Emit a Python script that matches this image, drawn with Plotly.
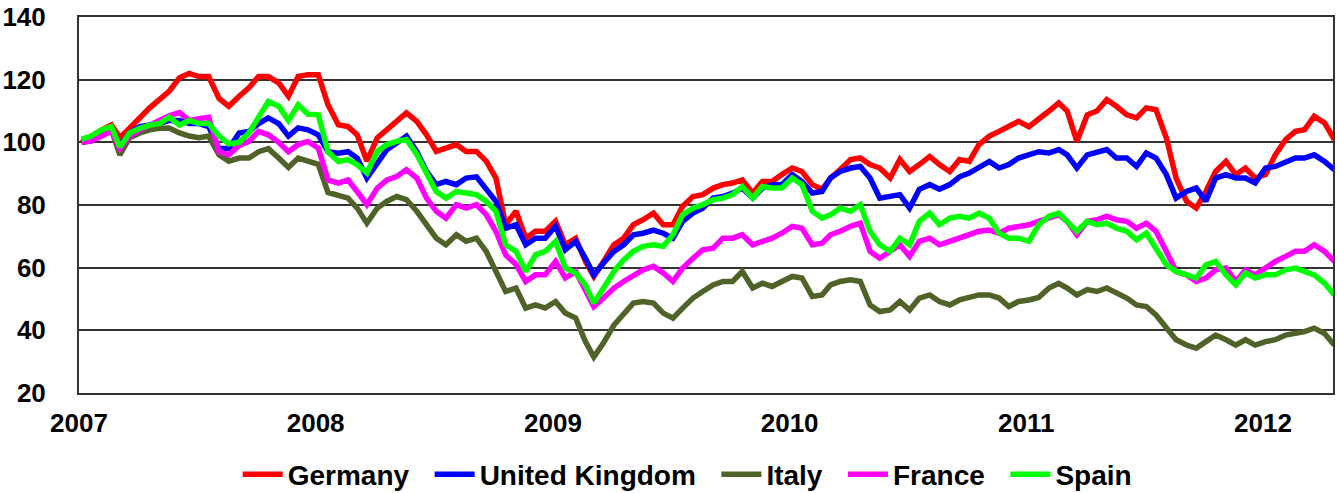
import plotly.graph_objects as go

# Semi-monthly observation dates (5th and 20th of each month), Jan 2007 - Apr 2012
dates = [f"{y}-{m:02d}-{d:02d}" for y in range(2007, 2013) for m in range(1, 13) for d in (5, 20)][:128]

germany = [100, 102, 104, 105.5, 101.5, 104.5, 108, 111, 113.6, 116.3, 120.6, 122, 121, 121, 114, 111.5,
           114.7, 117.4, 121, 121, 119, 114.7, 121, 121.6, 121.6, 112, 105.6, 105, 102.4, 94, 101.4, 104,
           106.7, 109.4, 106.7, 102.4, 97.1, 98.2, 99.3, 97.1, 97.1, 94, 88.6, 73.7, 78, 69.4, 71.6, 71.6,
           74.8, 67.3, 69.4, 62, 57.2, 62, 67.3, 69.4, 73.7, 75.3, 77.4, 73.7, 73.7, 79.6, 82.7, 83.3,
           85.4, 86.5, 87, 88, 83.8, 87.5, 87.5, 89.7, 91.8, 90.7, 86.5, 85, 88.6, 91.3, 94.5, 95,
           92.9, 91.8, 88.6, 94.5, 90.7, 92.9, 95.5, 92.9, 90.7, 94.5, 93.9, 99.3, 102, 103.5, 105, 106.7,
           105, 107.2, 110, 112.6, 110, 100.3, 108.8, 110, 113.6, 111.5, 108.8, 107.8, 111, 110.4, 101.4, 88.6,
           81.2, 79, 84.3, 90.7, 93.9, 89.7, 91.8, 88.6, 89.7, 96, 100.9, 103.5, 104, 108.3, 106.2, 100.9]

united_kingdom = [100, 100.5, 102.5, 104, 99, 103, 105, 105.5, 106, 107, 107, 106, 106, 105, 98, 98,
                  103, 103.5, 106, 107.8, 106, 102, 104.6, 104, 102.4, 97, 96.5, 97, 95, 88.6, 93.4, 97.7,
                  99.8, 102, 97, 90.7, 86.5, 87.5, 86.5, 88.6, 89, 85.4, 81.2, 72.6, 73.7, 67.3, 69.4, 69.4,
                  73.2, 65.7, 68.4, 63, 57.7, 61.5, 65.2, 67.3, 70.5, 71, 72, 71, 69.4, 74.8, 77.4, 79,
                  82.2, 82.7, 83.8, 85.4, 82.2, 85.4, 86.5, 86.5, 89.7, 87.5, 83.8, 84.3, 88.6, 90.7, 91.8, 92.3,
                  88.6, 82.2, 82.7, 83.3, 79, 85, 86.5, 85, 86.5, 89, 90.2, 91.8, 93.9, 91.8, 92.9, 95,
                  96, 97, 96.6, 97.7, 96, 91.8, 96, 97, 97.7, 95, 95, 92.3, 96.6, 95, 89.7, 82.2,
                  84.3, 85.4, 81.2, 88.6, 89.7, 88.6, 88.6, 87, 91.8, 92.3, 93.9, 95, 95, 96, 93.9, 91.3]

italy = [100, 101, 103, 104, 96, 101.5, 103, 104, 104.5, 104.6, 103, 102, 101.5, 102, 96, 94,
         95, 95, 97, 98, 95, 92, 95, 94, 93, 84, 83.3, 82.2, 79, 74.2, 79, 81.2,
         82.7, 81.7, 78, 73.7, 69.4, 67.3, 70.5, 68.4, 69.4, 65.2, 58.8, 52.4, 53.5, 47.1, 48.1, 47.1,
         49.2, 45.5, 43.9, 36.4, 31.5, 36, 41.7, 44.9, 48.7, 49.2, 48.7, 45.5, 43.9, 47.1, 50.3, 52.4,
         54.5, 55.6, 55.6, 58.8, 53.5, 55, 54, 55.6, 57.2, 56.7, 50.8, 51.3, 54.5, 55.6, 56.1, 55.6,
         48.1, 46, 46.5, 49.2, 46.5, 50.3, 51.3, 49.2, 48.1, 49.7, 50.3, 51.3, 51.3, 50.3, 47.6, 49.2,
         49.7, 50.5, 53.5, 55, 53.5, 51.3, 53, 52.4, 53.5, 51.9, 50.3, 48.1, 47.6, 44.9, 40.7, 37,
         35.3, 34.3, 36.4, 38.5, 37, 35.3, 37, 35.3, 36.4, 37, 38.5, 39, 39.6, 40.7, 39, 35.3]

france = [100, 100.5, 102, 103.5, 98, 102, 104, 105.5, 107, 108.5, 109.5, 107, 107.5, 108, 97, 96,
          99, 100.3, 103.5, 102.4, 100, 97, 99.3, 100.3, 98.2, 88, 87, 88, 84.3, 80.1, 85.4, 88,
          89.1, 91.3, 88.6, 82.2, 78, 75.8, 80.1, 79, 80.1, 76.9, 71.6, 64.1, 61, 55.6, 57.7, 57.7,
          62, 56.7, 58.8, 52.4, 47.6, 50.3, 53.5, 55.6, 57.7, 59.3, 60.4, 58.3, 55.6, 59.9, 63, 65.7,
          66.2, 69.4, 69.4, 70.5, 67.3, 68.4, 69.4, 71, 73.2, 72.6, 67.3, 67.8, 70.5, 71.6, 73.2, 74.2,
          65.2, 63, 65.2, 67.3, 63.6, 68.4, 69.4, 67.3, 68.4, 69.4, 70.5, 71.6, 72, 71, 72.6, 73.2,
          73.7, 74.8, 75.8, 76.9, 74.8, 70.5, 74.8, 75.3, 76.4, 75.3, 74.8, 72.6, 74.2, 71.6, 65.2, 58.8,
          57.7, 55.6, 56.7, 59.3, 59.9, 55.6, 59.3, 57.7, 59.9, 62, 63.6, 65.2, 65.2, 67.3, 65.2, 62]

spain = [101, 102, 104, 105, 98.5, 103, 104.5, 105.5, 106, 108, 105.5, 107, 106, 106, 102, 99.5,
         100, 103, 108, 113, 111.5, 107, 112, 109, 108.8, 97, 93.9, 94.5, 92.9, 90.2, 97.1, 99.3,
         100.3, 100.9, 96.1, 89.7, 84.3, 82.2, 84.3, 83.8, 83.3, 81.2, 78, 67.3, 65.2, 58.8, 64.1, 65.2,
         68.4, 59.9, 58.3, 54.5, 48.7, 53.5, 58.8, 62.5, 65.2, 66.8, 67.3, 66.8, 70.5, 76.9, 79, 80.1,
         81.7, 82.2, 83.3, 85.9, 82.2, 85.9, 85.4, 85.4, 88.6, 86.5, 78, 75.8, 76.9, 79, 78, 80.1,
         71.6, 67.3, 65.2, 69.4, 67.3, 74.8, 77.4, 73.7, 75.8, 76.4, 75.8, 77.4, 75.8, 71, 69.4, 69.4,
         68.4, 73.7, 76.4, 77.4, 74.8, 71.6, 74.8, 73.7, 74.2, 72.6, 71.6, 68.9, 71, 66.2, 60.9, 58.8,
         57.7, 56.7, 60.9, 62, 57.7, 54.5, 58.3, 56.7, 57.7, 57.7, 59.3, 59.9, 58.8, 57.7, 55, 51.3]

series = [
    ("Germany", germany, "#FF0000"),
    ("United Kingdom", united_kingdom, "#0000FF"),
    ("Italy", italy, "#4F6228"),
    ("France", france, "#FF00FF"),
    ("Spain", spain, "#00FF00"),
]

y_ticks = [20, 40, 60, 80, 100, 120, 140]

fig = go.Figure()
pad = "\u00a0\u00a0"
for k, (name, vals, color) in enumerate(series):
    label = name + (pad if k < len(series) - 1 else "")
    fig.add_trace(go.Scatter(x=dates, y=vals, name=label, mode="lines",
                             line=dict(color=color, width=5.5)))

font_family = "Liberation Sans, Arial, sans-serif"
fig.update_layout(
    width=1337, height=493,
    margin=dict(l=79, r=4, t=17, b=100, autoexpand=False),
    paper_bgcolor="white", plot_bgcolor="white",
    font=dict(family=font_family, size=26, color="black"),
    showlegend=True,
    legend=dict(orientation="h", x=0.485, xanchor="center",
                yref="container", y=0.088, yanchor="top",
                font=dict(family=font_family, size=28, color="black", weight="bold"),
                itemwidth=40, tracegroupgap=0),
)
fig.update_xaxes(
    type="date", range=["2007-01-01", "2012-04-18"],
    tick0="2007-01-01", dtick="M12", tickformat="%Y",
    showgrid=False, showline=True, linecolor="#333333", linewidth=2, mirror=True,
    ticks="", tickfont=dict(family=font_family, size=26, color="black", weight="bold"),
    ticklabelstandoff=6,
)
fig.update_yaxes(
    range=[20, 140], tickvals=y_ticks,
    showgrid=True, gridcolor="#333333", gridwidth=1.5,
    showline=True, linecolor="#333333", linewidth=2, mirror=True,
    ticks="", tickfont=dict(family=font_family, size=26, color="black", weight="bold"),
    ticklabelstandoff=26, zeroline=False,
)

fig.write_html("out.html", config={"displayModeBar": False},
               post_script="document.body.style.margin='0';")
